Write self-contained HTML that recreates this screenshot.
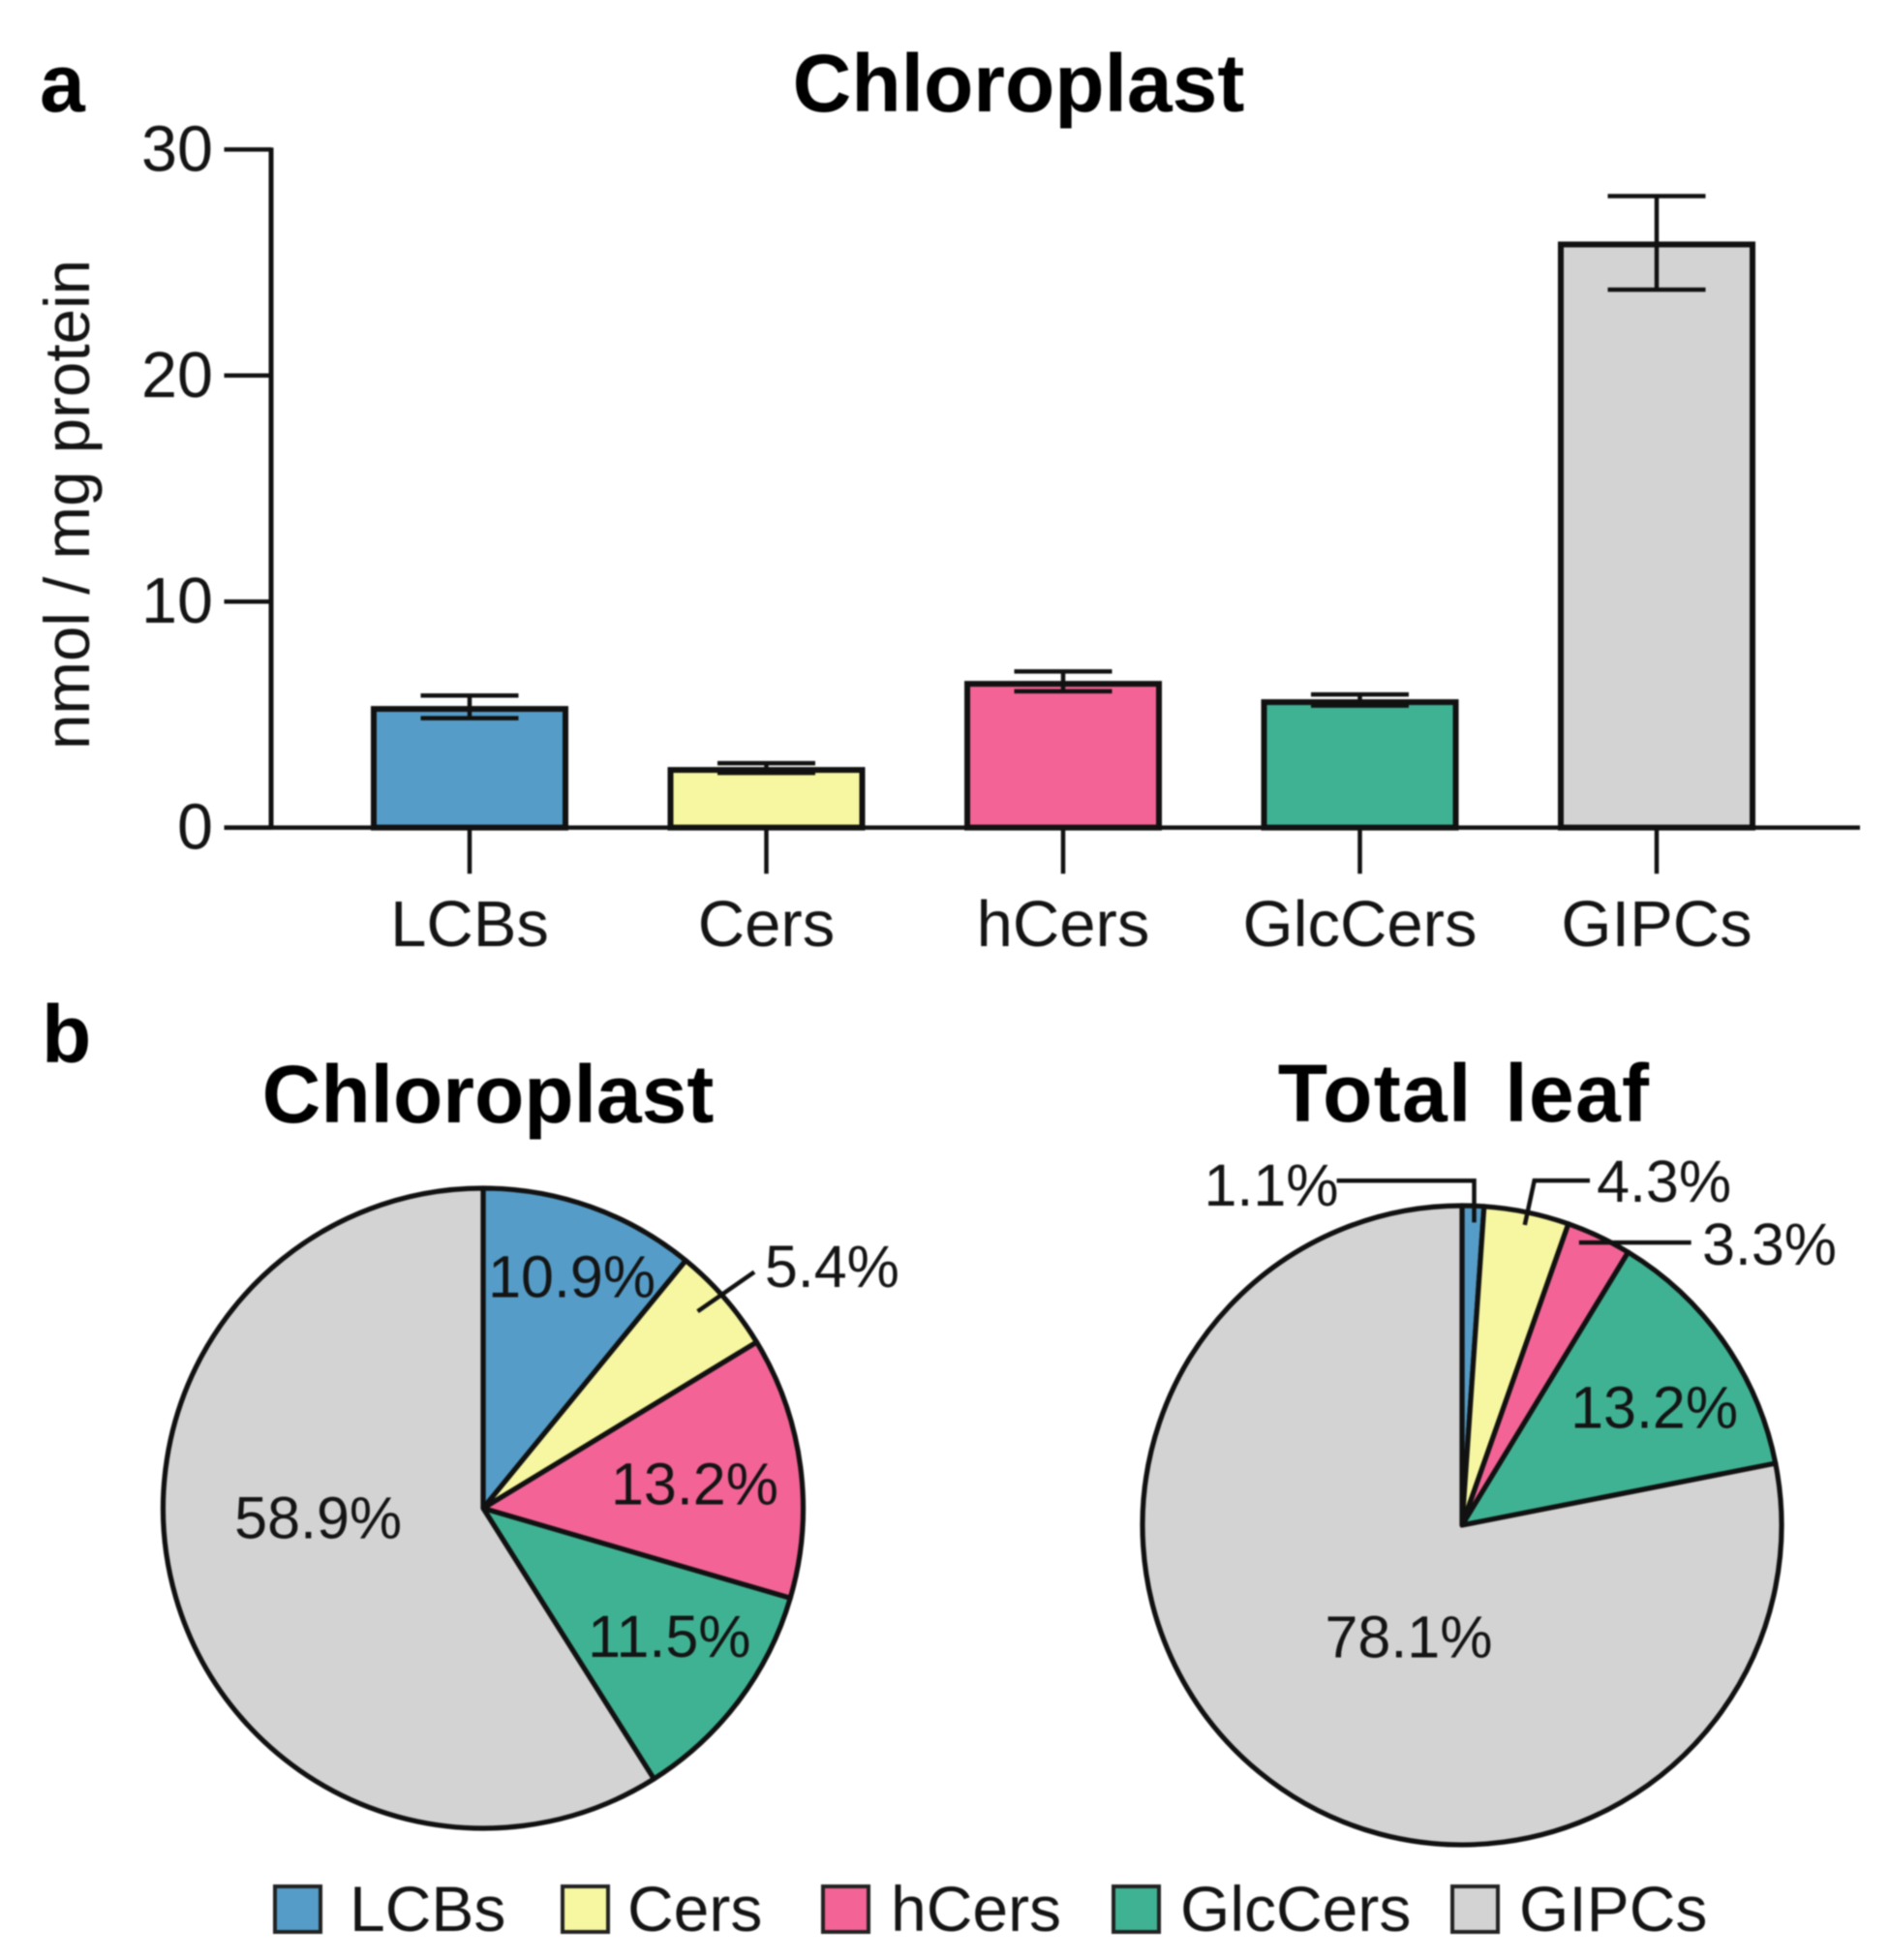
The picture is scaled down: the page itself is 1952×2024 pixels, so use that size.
<!DOCTYPE html>
<html lang="en">
<head>
<meta charset="utf-8">
<title>Chloroplast sphingolipids</title>
<style>
  html, body { margin: 0; padding: 0; background: #fff; }
  svg { display: block; filter: blur(0.8px); font-family: "Liberation Sans", Arial, sans-serif; }
</style>
</head>
<body>
<svg id="figure" xmlns="http://www.w3.org/2000/svg" width="1952" height="2024" viewBox="0 0 1952 2024">
  <rect x="0" y="0" width="1952" height="2024" fill="#fff"/>
  <text x="41" y="115" font-size="84" font-weight="700" fill="#000">a</text>
  <text x="1052" y="115" text-anchor="middle" font-size="84" font-weight="700" fill="#000">Chloroplast</text>
  <text transform="translate(92 521) rotate(-90)" text-anchor="middle" font-size="65.5" fill="#141414">nmol / mg protein</text>
  <text x="43" y="1097" font-size="84" font-weight="700" fill="#000">b</text>
  <text x="504" y="1159" text-anchor="middle" font-size="84" font-weight="700" fill="#000">Chloroplast</text>
  <text x="1512" y="1158" text-anchor="middle" font-size="84" font-weight="700" letter-spacing="1.3" word-spacing="9" fill="#000">Total leaf</text>
  <g id="bar-chart"></g>
  <g id="pie-chloroplast"></g>
  <g id="pie-total-leaf"></g>
  <g id="legend"></g>
</svg>
<script>
// ---- data ----
const categories = ['LCBs', 'Cers', 'hCers', 'GlcCers', 'GIPCs'];
const barValues = [5.25, 2.55, 6.36, 5.55, 25.8];
const errorUp = [0.59, 0.3, 0.55, 0.34, 2.14];
const errorDown = [0.41, 0.13, 0.33, 0.15, 2.0];
const yTicks = [0, 10, 20, 30];
const chloroplastShares = [10.9, 5.4, 13.2, 11.5, 58.9];
const totalLeafShares = [1.1, 4.3, 3.3, 13.2, 78.1];

// ---- styling and layout ----
const sliceColors = ['#559dc8', '#f7f7a1', '#f36396', '#40b294', '#d3d3d3'];
const INK = '#111';
const NS = 'http://www.w3.org/2000/svg';
const chloroplastLabelNudges = [[19.4, -15.8], [198.2, -87.6], [5.5, 24.2], [20.8, 24], [36, -28.7]];
const chloroplastLeaders = [null, [[59.4, -62.4], [117.9, -103]], null, null, null];
const totalLeafLabelNudges = [[-204.4, -115.8], [165.1, -124], [225.6, -75], [22.7, 22.5], [81.2, -29]];
const totalLeafLeaders = [
  [[-136.8, -141.4], [5.1, -141.4], [5.1, -98.2]],
  [[88.5, -145.8], [31.2, -145.8], [21.3, -100]],
  [[144.7, -98.1], [28.9, -98.1]],
  null,
  null
];

function make(tag, attrs, parent) {
  const el = document.createElementNS(NS, tag);
  for (const k in attrs) el.setAttribute(k, attrs[k]);
  parent.appendChild(el);
  return el;
}
function makeText(str, x, y, size, anchor, parent) {
  const el = make('text', {
    x: x,
    y: y,
    'font-size': size,
    'text-anchor': anchor,
    fill: '#141414'
  }, parent);
  el.textContent = str;
  return el;
}
function slug(s) { return s.toLowerCase(); }

// ---- bar chart ----
const barGroup = document.getElementById('bar-chart');
const yScale = v => 854.6 - v * 23.34;
const xScale = i => 485 + i * 306.5;
const BAR_W = 198;
const CAP = 50.5;

categories.forEach((c, i) => {
  const x = xScale(i);
  const rect = make('rect', {
    x: x - BAR_W / 2,
    y: yScale(barValues[i]),
    width: BAR_W,
    height: yScale(0) - yScale(barValues[i]),
    fill: sliceColors[i],
    stroke: INK,
    'stroke-width': 6
  }, barGroup);
  
  

  const hi = yScale(barValues[i] + errorUp[i]);
  const lo = yScale(barValues[i] - errorDown[i]);
  const err = make('path', {
    d: 'M' + (x - CAP) + ' ' + hi + 'H' + (x + CAP) + 'M' + x + ' ' + hi + 'V' + lo + 'M' + (x - CAP) + ' ' + lo + 'H' + (x + CAP),
    fill: 'none',
    stroke: INK,
    'stroke-width': 4.5
  }, barGroup);
  
  

  const tick = make('line', {
    x1: x, x2: x, y1: yScale(0), y2: 902.3, stroke: INK, 'stroke-width': 4.5
  }, barGroup);
  
  

  const lab = makeText(c, x, 977, 67, 'middle', barGroup);
  
  
});

const yAxis = make('line', {
  x1: 280, x2: 280, y1: yScale(yTicks[yTicks.length - 1]) - 2, y2: yScale(0) + 2, stroke: INK, 'stroke-width': 5
}, barGroup);



const xAxis = make('line', {
  x1: 231.5, x2: 1921, y1: yScale(0), y2: yScale(0), stroke: INK, 'stroke-width': 4.5
}, barGroup);



yTicks.forEach(t => {
  const tick = make('line', {
    x1: 231.5, x2: 280, y1: yScale(t), y2: yScale(t), stroke: INK, 'stroke-width': 4.5
  }, barGroup);
  
  
  const lab = makeText(String(t), 220, yScale(t) + 22, 66.5, 'end', barGroup);
  
  
});

// ---- pies ----
function drawPie(group, prefix, shares, cx, cy, r, nudges, leaders) {
  const total = shares.reduce((a, b) => a + b, 0);
  const pt = (frac, k) => {
    const a = frac * 2 * Math.PI;
    return [cx + k * r * Math.sin(a), cy - k * r * Math.cos(a)];
  };
  let run = 0;
  const mids = [];
  shares.forEach((s, i) => {
    const from = run / total;
    const to = (run + s) / total;
    run += s;
    mids.push(pt((from + to) / 2, 0.65));
    const p0 = pt(from, 1);
    const p1 = pt(to, 1);
    const large = to - from > 0.5 ? 1 : 0;
    const slice = make('path', {
      d: 'M' + cx + ' ' + cy + 'L' + p0[0] + ' ' + p0[1] + 'A' + r + ' ' + r + ' 0 ' + large + ' 1 ' + p1[0] + ' ' + p1[1] + 'Z',
      fill: sliceColors[i],
      stroke: INK,
      'stroke-width': 5.2,
      'stroke-linejoin': 'round'
    }, group);
    
    
  });
  shares.forEach((s, i) => {
    const base = mids[i];
    if (leaders[i]) {
      const leader = make('polyline', {
        points: leaders[i].map(o => (base[0] + o[0]) + ',' + (base[1] + o[1])).join(' '),
        fill: 'none',
        stroke: INK,
        'stroke-width': 4.5
      }, group);
      
      
    }
    const lab = makeText(s.toFixed(1) + '%', base[0] + nudges[i][0], base[1] + nudges[i][1], 61, 'middle', group);
    
    
  });
}
drawPie(document.getElementById('pie-chloroplast'), 'chloroplast', chloroplastShares, 499, 1557.5, 330.5, chloroplastLabelNudges, chloroplastLeaders);
drawPie(document.getElementById('pie-total-leaf'), 'total-leaf', totalLeafShares, 1510, 1575, 330, totalLeafLabelNudges, totalLeafLeaders);

// ---- legend ----
const legendGroup = document.getElementById('legend');
const legendSwatchX = [284, 581, 850, 1150, 1500];
const legendTextX = [361, 648, 920, 1219, 1569];
categories.forEach((c, i) => {
  const sw = make('rect', {
    x: legendSwatchX[i], y: 1948, width: 47, height: 47,
    fill: sliceColors[i], stroke: '#222', 'stroke-width': 4
  }, legendGroup);
  
  
  const lab = makeText(c, legendTextX[i], 1994, 66, 'start', legendGroup);
  
  
});
</script>
</body>
</html>
